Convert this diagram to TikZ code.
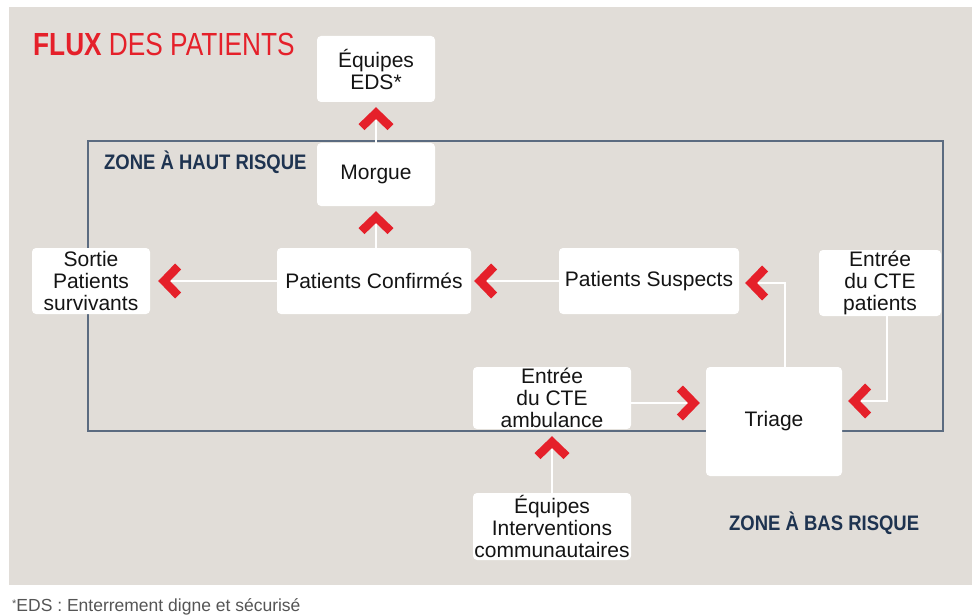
\documentclass[tikz,border=0pt]{standalone}
\usepackage{fontspec}
\setmainfont{Liberation Sans}
\newfontfamily\titlefont[FakeStretch=0.82]{Liberation Sans}
\newfontfamily\zonefont[FakeStretch=0.88]{Liberation Sans}
\usetikzlibrary{arrows.meta}
\definecolor{bg}{HTML}{E1DDD8}
\definecolor{fluxred}{HTML}{E5202A}
\definecolor{zoneline}{HTML}{5B6B80}
\definecolor{zonetext}{HTML}{1E3350}
\definecolor{boxtext}{HTML}{141414}
\definecolor{foot}{HTML}{555555}
\begin{document}
\begin{tikzpicture}[x=1pt,y=-1pt,
  box/.style={fill=white, rounded corners=4pt, inner sep=0pt, align=center,
    text=boxtext, font=\fontsize{21}{22}\selectfont},
  flow/.style={draw=white, line width=1.5pt,
    -{Straight Barb[sharp, length=14pt, width=29pt, line width=8.5pt, color=fluxred]}},
  zonelabel/.style={anchor=base west, inner sep=0pt, text=zonetext,
    font=\zonefont\bfseries\fontsize{21}{22}\selectfont},
]
\useasboundingbox (0,0) rectangle (972,615);
\fill[white] (0,0) rectangle (972,615);
\fill[bg] (9,7) rectangle (972,585);

% zone
\node[draw=zoneline, line width=2pt, minimum width=855pt, minimum height=290pt, inner sep=0pt] (zone) at (515.5,286) {};

% title
\node[anchor=base west, inner sep=0pt, text=fluxred, font=\titlefont\fontsize{32}{34}\selectfont] (title) at (33,56) {\textbf{FLUX} DES PATIENTS};

\node[zonelabel] (zhaut) at (104,170) {ZONE À HAUT RISQUE};
\node[zonelabel] (zbas) at (729,530) {ZONE À BAS RISQUE};

% boxes
\node[box, minimum width=118pt, minimum height=66pt] (eds) at (376,69) {Équipes\\EDS*};
\node[box, minimum width=118pt, minimum height=63pt] (morgue) at (376,174.5) {Morgue};
\node[box, minimum width=118pt, minimum height=66pt] (sortie) at (91,281) {Sortie\\Patients\\survivants};
\node[box, minimum width=194pt, minimum height=66pt] (conf) at (374,281) {Patients Confirmés};
\node[box, minimum width=180pt, minimum height=66pt] (susp) at (649,281) {Patients Suspects};
\node[box, minimum width=122pt, minimum height=66pt] (entp) at (880,283) {Entrée\\du CTE\\patients};
\node[box, minimum width=158pt, minimum height=62pt] (amb) at (552,398) {Entrée\\du CTE\\ambulance};
\node[box, minimum width=136pt, minimum height=109pt] (triage) at (774,421.5) {Triage};
\node[box, minimum width=158pt, minimum height=67pt] (interv) at (552,526.5) {Équipes\\Interventions\\communautaires};

% flows
\draw[flow, shorten >=5pt] (morgue.north) -- (eds.south);
\draw[flow, shorten >=5pt] (conf.north -| morgue.south) -- (morgue.south);
\draw[flow, shorten >=8pt] (conf.west) -- (sortie.east);
\draw[flow, shorten >=3pt] (susp.west) -- (conf.east);
\draw[flow, shorten >=6pt] ([xshift=11pt]triage.north) |- ([yshift=-2pt]susp.east);
\draw[flow, shorten >=6pt] ([xshift=7pt]entp.south) |- ([yshift=20.5pt]triage.east);
\draw[flow, shorten >=6pt] ([yshift=-5pt]amb.east) -- ([yshift=-5pt]amb.east -| triage.west);
\draw[flow, shorten >=7pt] (interv.north) -- (amb.south);

% footnote
\node[anchor=base west, inner sep=0pt, text=foot, font=\fontsize{17.5}{18}\selectfont] (foot) at (12,611) {\raisebox{0.35ex}{\fontsize{11}{11}\selectfont *}EDS : Enterrement digne et sécurisé};
\end{tikzpicture}
\end{document}
